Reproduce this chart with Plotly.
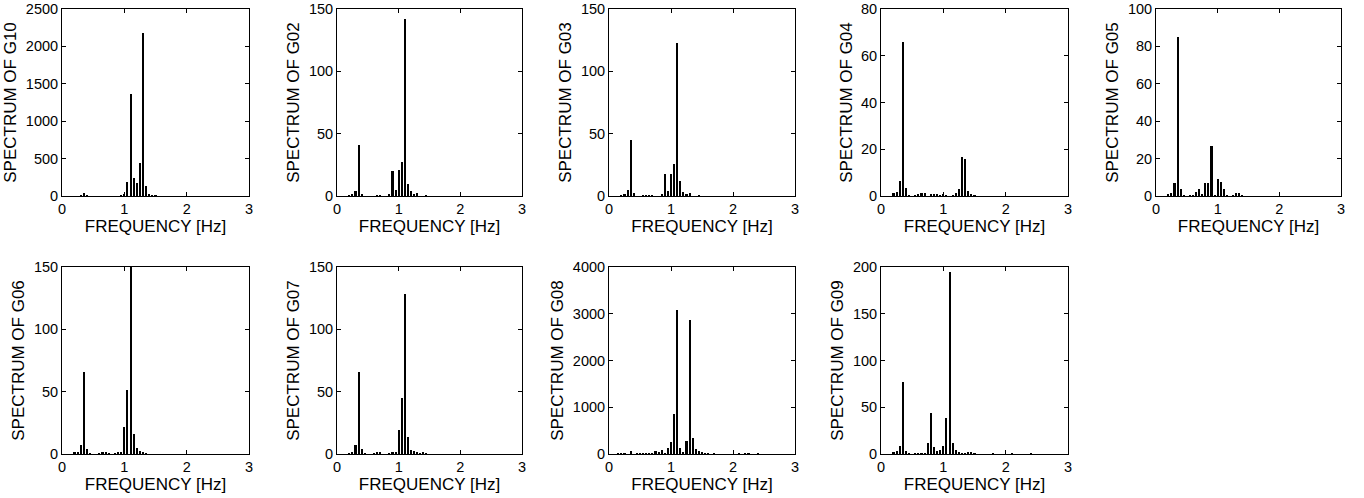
import plotly.graph_objects as go

# ---------------- data (frequency bins in Hz, spectrum values) ----------------
names = ["G10", "G02", "G03", "G04", "G05", "G06", "G07", "G08", "G09"]

f_g10 = [0.30, 0.35, 0.40, 0.95, 1.00, 1.05, 1.10, 1.15, 1.20, 1.25, 1.30, 1.35, 1.40, 1.45, 1.50]
v_g10 = [5, 40, 5, 8, 30, 190, 1360, 240, 180, 440, 2180, 140, 15, 5, 5]

f_g02 = [0.20, 0.25, 0.30, 0.35, 0.40, 0.65, 0.70, 0.85, 0.90, 0.95, 1.00, 1.05, 1.10, 1.15, 1.20, 1.25, 1.30, 1.45]
v_g02 = [0.5, 1, 4, 41, 2, 0.3, 0.3, 1.3, 20, 5, 21, 27, 142, 10, 4, 2, 2.5, 0.3]

f_g03 = [0.20, 0.25, 0.30, 0.35, 0.40, 0.55, 0.60, 0.65, 0.70, 0.85, 0.90, 0.95, 1.00, 1.05, 1.10, 1.15, 1.20, 1.25, 1.30, 1.45]
v_g03 = [0.5, 1, 4.5, 45, 2.4, 0.3, 0.3, 0.3, 0.3, 1, 18, 4, 18, 26, 123, 12.4, 3.5, 2, 2.5, 0.3]

f_g04 = [0.20, 0.25, 0.30, 0.35, 0.40, 0.45, 0.55, 0.60, 0.65, 0.70, 0.80, 0.85, 0.90, 0.95, 1.00, 1.05,
         1.15, 1.20, 1.25, 1.30, 1.35, 1.40, 1.45, 1.50]
v_g04 = [1.3, 1.7, 6.5, 66, 3.4, 0.4, 0.3, 0.6, 1.1, 1.1, 0.8, 0.6, 0.8, 0.3, 0.5, 0.3,
         0.4, 1.2, 3.1, 16.5, 16, 2.3, 0.8, 0.3]

f_g05 = [0.20, 0.25, 0.30, 0.35, 0.40, 0.45, 0.55, 0.60, 0.65, 0.70, 0.75, 0.80, 0.85, 0.90, 0.95,
         1.00, 1.05, 1.10, 1.15, 1.25, 1.30, 1.35, 1.40]
v_g05 = [1.2, 1.6, 7, 85, 3.6, 0.5, 0.3, 0.5, 2, 3.8, 1.3, 7, 7, 27, 0.5,
         9, 7.5, 4, 0.3, 0.5, 1.4, 1.4, 0.4]

f_g06 = [0.20, 0.25, 0.30, 0.35, 0.40, 0.45, 0.60, 0.65, 0.70, 0.75, 0.85, 0.90, 0.95,
         1.00, 1.05, 1.10, 1.15, 1.20, 1.25, 1.30, 1.35]
v_g06 = [1, 2, 7, 66, 4, 0.3, 0.3, 1, 1, 0.3, 0.3, 2, 2,
         21.5, 51, 150, 16.4, 4.6, 2.7, 1.6, 0.3]

f_g07 = [0.20, 0.25, 0.30, 0.35, 0.40, 0.45, 0.60, 0.65, 0.70, 0.85, 0.90, 0.95,
         1.00, 1.05, 1.10, 1.15, 1.20, 1.25, 1.30, 1.35, 1.40, 1.45]
v_g07 = [0.8, 1.6, 7, 66, 3.8, 0.3, 0.3, 1, 1, 0.5, 2, 2,
         19.4, 45, 128, 14, 3.5, 2.4, 1.6, 0.3, 1.3, 0.3]

f_g08 = [0.15, 0.20, 0.25, 0.35, 0.45, 0.50, 0.55, 0.60, 0.65, 0.70, 0.75, 0.80, 0.85, 0.90, 0.95,
         1.00, 1.05, 1.10, 1.15, 1.20, 1.25, 1.30, 1.35, 1.40, 1.45, 1.50, 1.55, 1.60, 1.70,
         2.10, 2.20, 2.25, 2.40]
v_g08 = [10, 10, 5, 60, 10, 10, 10, 10, 10, 10, 60, 50, 80, 15, 120,
         250, 860, 3070, 120, 30, 270, 2870, 340, 115, 70, 45, 10, 10, 10,
         10, 10, 10, 10]

f_g09 = [0.20, 0.25, 0.30, 0.35, 0.40, 0.45, 0.55, 0.60, 0.65, 0.70, 0.75, 0.80, 0.85, 0.90, 0.95,
         1.00, 1.05, 1.10, 1.15, 1.20, 1.25, 1.30, 1.35, 1.40, 1.45, 1.50, 1.80, 2.10, 2.40]
v_g09 = [2.5, 3.2, 9, 77, 3.6, 0.5, 0.5, 0.5, 0.5, 0.5, 11.5, 43.7, 7, 3.2, 4.7,
         8.6, 38.7, 195, 12, 4, 1.8, 1, 1, 1.5, 2.5, 0.5, 0.3, 0.3, 0.3]

freqs = [f_g10, f_g02, f_g03, f_g04, f_g05, f_g06, f_g07, f_g08, f_g09]
values = [v_g10, v_g02, v_g03, v_g04, v_g05, v_g06, v_g07, v_g08, v_g09]
y_max = [2500, 150, 150, 80, 100, 150, 150, 4000, 200]
y_dtick = [500, 50, 50, 20, 20, 50, 50, 1000, 50]
x_ticks = [0, 1, 2, 3]

# ---------------- layout geometry ----------------
W, H = 1364, 498
col_px = [(62, 249), (337, 522), (609, 795), (881, 1068), (1156, 1341)]
row_px = [(9, 196), (267, 454)]

FONT = "Liberation Sans, Arial, Helvetica, sans-serif"
fig = go.Figure()
layout = dict(
    template="none",
    width=W, height=H,
    margin=dict(l=0, r=0, t=0, b=0, autoexpand=False),
    paper_bgcolor="white", plot_bgcolor="white",
    showlegend=False, bargap=0,
    font=dict(family=FONT, color="black", size=14),
)

for i, name in enumerate(names):
    r, c = divmod(i, 5)
    k = "" if i == 0 else str(i + 1)
    x0, x1 = col_px[c]
    y0, y1 = row_px[r]
    fig.add_trace(go.Bar(
        x=freqs[i], y=values[i], width=0.033,
        marker=dict(color="black", line=dict(width=0)),
        xaxis="x" + k, yaxis="y" + k,
    ))
    common = dict(
        showline=True, linecolor="black", linewidth=1, mirror="ticks",
        ticks="inside", ticklen=4, tickcolor="black", tickwidth=1,
        showgrid=False, zeroline=False, fixedrange=True, automargin=False,
        tickfont=dict(family=FONT, size=14.5, color="black"),
    )
    layout["xaxis" + k] = dict(
        domain=[x0 / W, x1 / W], anchor="y" + k,
        range=[0, 3], tickvals=x_ticks, ticktext=[str(t) for t in x_ticks],
        title=dict(text="FREQUENCY [Hz]", font=dict(family=FONT, size=17, color="black"), standoff=1),
        **common,
    )
    layout["yaxis" + k] = dict(
        domain=[1 - y1 / H, 1 - y0 / H], anchor="x" + k,
        range=[0, y_max[i]], tick0=0, dtick=y_dtick[i],
        title=dict(text="SPECTRUM OF " + name, font=dict(family=FONT, size=17, color="black"), standoff=4),
        **common,
    )

fig.update_layout(**layout)
fig.write_html(
    "out.html",
    config={"displayModeBar": False},
    post_script="document.body.style.margin='0px';document.body.style.overflow='hidden';",
)
